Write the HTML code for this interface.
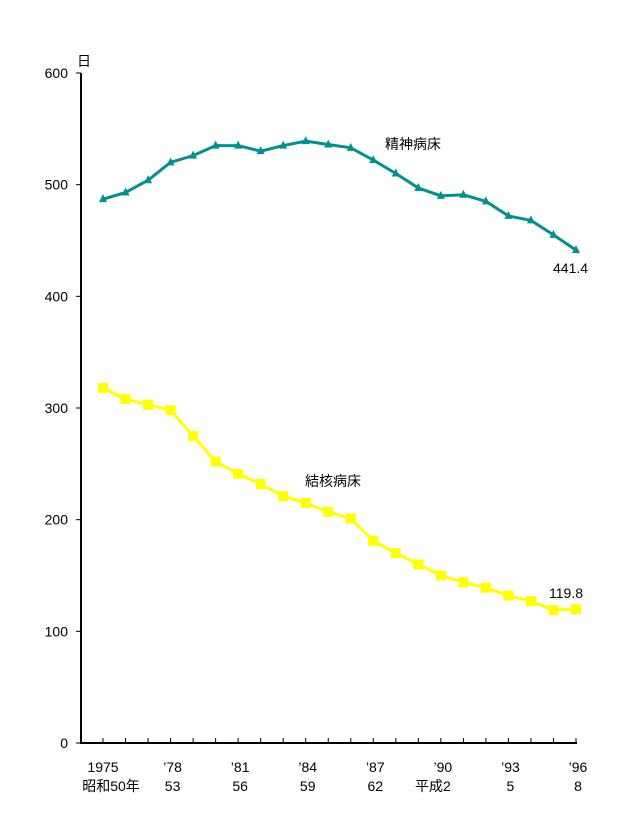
<!DOCTYPE html>
<html><head><meta charset="utf-8">
<style>
html,body{margin:0;padding:0;background:#fff;}
svg{display:block;}
text{font-family:"Liberation Sans","Noto Sans CJK JP",sans-serif;font-size:14px;fill:#000;}
</style></head>
<body>
<svg id="chart" width="633" height="818" xmlns="http://www.w3.org/2000/svg"></svg>
<script>
const years = [1975,1976,1977,1978,1979,1980,1981,1982,1983,1984,1985,1986,1987,1988,1989,1990,1991,1992,1993,1994,1995,1996];
const psychValues = [487,493,504,520,526,535,535,530,535,539,536,533,522,510,497,490,491,485,472,468,455,441.4];
const tbValues = [318,308,303,298,275,252,241,232,221,215,207,201,181,170,160,150,144,139,132,127,119,119.8];
const yTicks = [0,100,200,300,400,500,600];
const xLabels1 = ["1975","’78","’81","’84","’87","’90","’93","’96"];
const xLabels2 = ["昭和50年","53","56","59","62","平成2","5","8"];
const xLabelYears = [1975,1978,1981,1984,1987,1990,1993,1996];

const NS="http://www.w3.org/2000/svg";
const svg=document.getElementById('chart');
const x0=103,x1=576,y0=743,y600=73;
const xs=y=>x0+(y-1975)*(x1-x0)/(1996-1975);
const ys=v=>y0-v*(y0-y600)/600;
function mk(t,a){const e=document.createElementNS(NS,t);for(const k in a)e.setAttribute(k,a[k]);svg.appendChild(e);return e;}

let e;
e=mk('line',{x1:81,y1:73,x2:81,y2:744,stroke:'#000','stroke-width':2});


e=mk('line',{x1:80,y1:743,x2:577,y2:743,stroke:'#000','stroke-width':2});


yTicks.forEach(v=>{
  e=mk('line',{x1:76,y1:ys(v),x2:81,y2:ys(v),stroke:'#000','stroke-width':1});
  
  
  e=mk('text',{x:68,y:ys(v)+5,'text-anchor':'end'});e.textContent=v;
  
  
});
e=mk('text',{x:77,y:66});e.textContent='日';


years.forEach(y=>{
  e=mk('line',{x1:xs(y),y1:738,x2:xs(y),y2:743,stroke:'#000','stroke-width':1});
  
  
});
xLabelYears.forEach((y,i)=>{
  e=mk('text',{x:xs(y)+(i==0?0:2),y:772,'text-anchor':'middle'});e.textContent=xLabels1[i];
  
  
  e=mk('text',{x:xs(y)+(i==0?8:(i==5?-8:2)),y:791,'text-anchor':i==0?'middle':'middle'});e.textContent=xLabels2[i];
  
  
});
function series(vals,color,name,marker){
  const pts=years.map((y,i)=>xs(y)+','+ys(vals[i])).join(' ');
  e=mk('polyline',{points:pts,fill:'none',stroke:color,'stroke-width':3});
  
  
  years.forEach((y,i)=>{
    const cx=xs(y),cy=ys(vals[i]);
    if(marker=='sq') e=mk('rect',{x:cx-5,y:cy-5,width:10,height:10,fill:color});
    else e=mk('polygon',{points:`${cx},${cy-5} ${cx-4},${cy+3} ${cx+4},${cy+3}`,fill:color});
    
    
  });
}
series(psychValues,'#009090','psychiatric','tri');
series(tbValues,'#ffff00','tuberculosis','sq');
e=mk('text',{x:385,y:149});e.textContent='精神病床';


e=mk('text',{x:305,y:486});e.textContent='結核病床';


e=mk('text',{x:553,y:273});e.textContent='441.4';


e=mk('text',{x:549,y:598});e.textContent='119.8';


</script>
</body></html>
